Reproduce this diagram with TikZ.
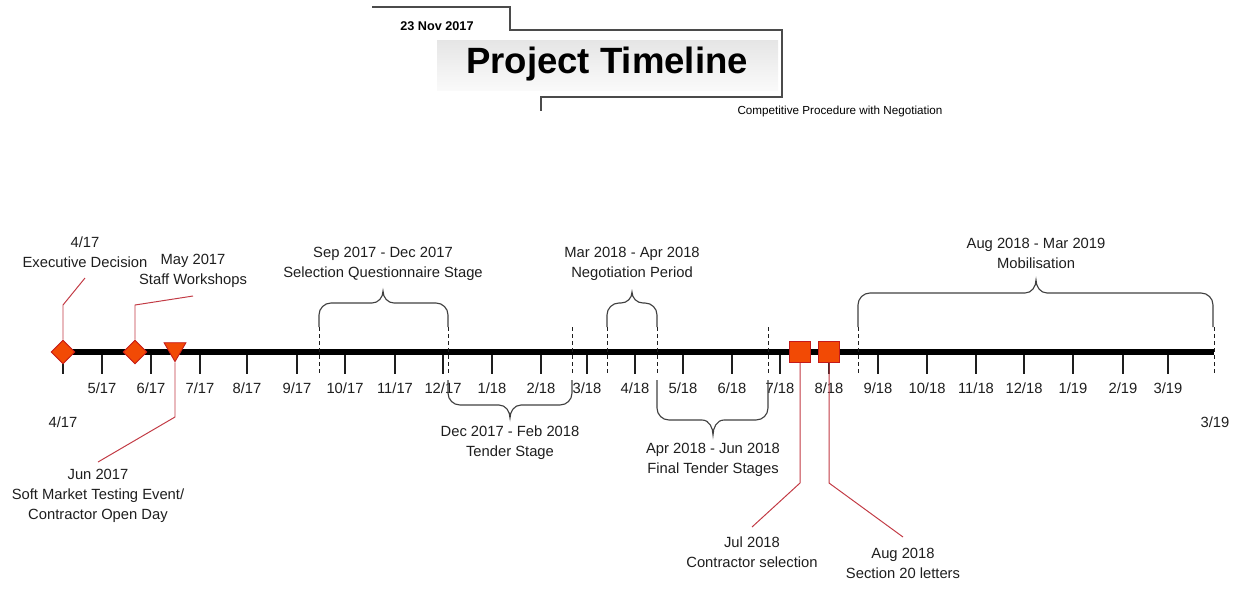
\documentclass[tikz,border=0pt]{standalone}
\usepackage{fontspec}
\setmainfont{Liberation Sans}
\usetikzlibrary{shapes.geometric}
\definecolor{mkfill}{HTML}{F24A05}
\definecolor{mkline}{HTML}{C41A1A}
\definecolor{callred}{HTML}{C23A44}
\definecolor{ink}{HTML}{1E1E1E}
\begin{document}
\begin{tikzpicture}[x=0.025cm,y=-0.025cm,
    lbl/.style={font=\fontsize{10.5}{14.2}\selectfont, align=center, inner sep=0pt, text=ink},
    ticklbl/.style={font=\fontsize{10.5}{12}\selectfont, inner sep=0pt, text=ink},
    tick/.style={line width=1pt, ink},
    edgemark/.style={dashed, dash pattern=on 3pt off 2pt, line width=0.7pt, ink},
    bracepath/.style={line width=0.8pt, ink!85},
    callout/.style={callred, line width=0.7pt},
    dmd/.style={diamond, draw=mkline, fill=mkfill, inner sep=0pt, minimum size=17pt, line width=0.6pt},
    sqr/.style={rectangle, draw=mkline, fill=mkfill, inner sep=0pt, minimum size=15pt, line width=0.8pt},
    tri/.style={regular polygon, regular polygon sides=3, shape border rotate=180, draw=mkline, fill=mkfill, inner sep=0pt, minimum size=18pt, line width=0.6pt}]
    \useasboundingbox (0,0) rectangle (1240,588);

% heading
    \shade[top color=gray!20, bottom color=gray!4] (437,40) rectangle (778,90);
    \draw[line width=1pt, ink!80] (372,7) -- (510,7) -- (510,30) -- (782,30) -- (782,97) -- (541,97) -- (541,111);
    \node[font=\bfseries\fontsize{9}{10}\selectfont, inner sep=0pt] (date) at (437,26) {23 Nov 2017};
    \node[font=\bfseries\fontsize{26}{30}\selectfont, inner sep=0pt] (title) at (607,64) {Project Timeline};
    \node[font=\fontsize{8.3}{10}\selectfont, inner sep=0pt] (subtitle) at (840,111) {Competitive Procedure with Negotiation};

% months
    \draw[tick] (63,352) -- (63,374);
    \foreach \tx/\tl in {102/{5/17},151/{6/17},200/{7/17},247/{8/17},297/{9/17},345/{10/17},395/{11/17},443/{12/17},
        492/{1/18},541/{2/18},587/{3/18},635/{4/18},683/{5/18},732/{6/18},780/{7/18},829/{8/18},
        878/{9/18},927/{10/18},976/{11/18},1024/{12/18},1073/{1/19},1123/{2/19},1168/{3/19}}{
        \draw[tick] (\tx,352) -- (\tx,374);
        \node[ticklbl] (t\tx) at (\tx,388) {\tl};
    }
    \node[ticklbl] (first) at (63,422) {4/17};
    \node[ticklbl] (last) at (1215,422) {3/19};

    \coordinate (tl start) at (62,352);
    \coordinate (tl end) at (1214,352);
    \draw[line width=3.6pt] (tl start) -- (tl end);

% period edges
    \foreach \bx in {319,448,572,607,657,768,858,1214}
        \draw[edgemark] (\bx,327) -- (\bx,376);

% braces above
    \foreach \xa/\xb/\xm/\yb/\yt in {319/448/383/303/291, 607/657/632/303/292, 858/1213/1036/293/280}
        \draw[bracepath] (\xa,327) -- (\xa,\yb+12) to[out=90,in=180] (\xa+12,\yb) -- (\xm-11,\yb)
            to[out=0,in=-90] (\xm,\yt) to[out=-90,in=180] (\xm+11,\yb) -- (\xb-12,\yb)
            to[out=0,in=90] (\xb,\yb+12) -- (\xb,327);
% braces below
    \foreach \xa/\xb/\xm/\yb/\yt in {448/572/510/405/418, 657/768/713/420/435}
        \draw[bracepath] (\xa,380) -- (\xa,\yb-12) to[out=-90,in=180] (\xa+12,\yb) -- (\xm-11,\yb)
            to[out=0,in=90] (\xm,\yt) to[out=90,in=180] (\xm+11,\yb) -- (\xb-12,\yb)
            to[out=0,in=-90] (\xb,\yb-12) -- (\xb,380);

    \node[lbl] (sqs) at (383,264) {Sep 2017 - Dec 2017\\Selection Questionnaire Stage};
    \node[lbl] (neg) at (632,264) {Mar 2018 - Apr 2018\\Negotiation Period};
    \node[lbl] (mob) at (1036,253) {Aug 2018 - Mar 2019\\Mobilisation};
    \node[lbl] (tender) at (510,443) {Dec 2017 - Feb 2018\\Tender Stage};
    \node[lbl] (final) at (713,460) {Apr 2018 - Jun 2018\\Final Tender Stages};

% milestones
    \node[dmd] (exec) at (63,352) {};
    \node[dmd] (staff) at (135,352) {};
    \node[tri] (smt) at (175,349) {};
    \node[sqr] (jul) at (800,352) {};
    \node[sqr] (aug) at (829,352) {};

    \node[lbl] (exec lbl) at (85,252) {4/17\\Executive Decision};
    \node[lbl] (staff lbl) at (193,271) {May 2017\\Staff Workshops};
    \node[lbl] (smt lbl) at (98,496) {Jun 2017\\Soft Market Testing Event/\\Contractor Open Day};
    \node[lbl] (jul lbl) at (752,552) {Jul 2018\\Contractor selection};
    \node[lbl] (aug lbl) at (903,563) {Aug 2018\\Section 20 letters};

    \coordinate (exec bend) at (63,305);   \coordinate (exec end) at (85,278);
    \coordinate (staff bend) at (135,305); \coordinate (staff end) at (193,296);
    \coordinate (smt bend) at (175,417);   \coordinate (smt end) at (98,462);
    \coordinate (jul bend) at (800,483);   \coordinate (jul end) at (752,527);
    \coordinate (aug bend) at (829,483);   \coordinate (aug end) at (903,537);

    \draw[callout] (exec.north) -- (exec bend) -- (exec end);
    \draw[callout] (staff.north) -- (staff bend) -- (staff end);
    \draw[callout] (smt.south) -- (smt bend) -- (smt end);
    \draw[callout] (jul.south) -- (jul bend) -- (jul end);
    \draw[callout] (aug.south) -- (aug bend) -- (aug end);

\end{tikzpicture}
\end{document}
